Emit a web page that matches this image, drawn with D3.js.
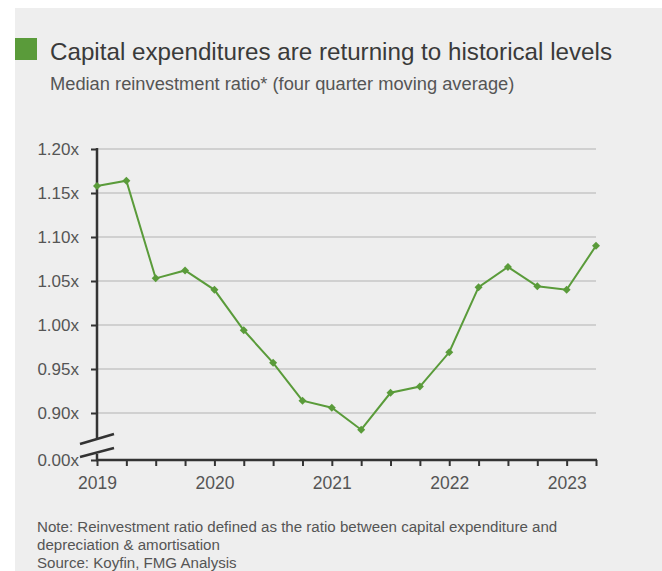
<!DOCTYPE html>
<html>
<head>
<meta charset="utf-8">
<script src="https://cdn.jsdelivr.net/npm/d3@7"></script>
<style>
	body { margin: 0; background: #fff; }
	svg { display: block; font-family: "Liberation Sans", Arial, Helvetica, sans-serif; }
</style>
</head>
<body>
<svg id="chart" width="662" height="571"></svg>
<script>
// quarterly points, 2019 Q1 .. 2023 Q2
var quarters = [2019, 2019.25, 2019.5, 2019.75, 2020, 2020.25, 2020.5, 2020.75,
	2021, 2021.25, 2021.5, 2021.75, 2022, 2022.25, 2022.5, 2022.75, 2023, 2023.25];
var ratios = [1.158, 1.164, 1.053, 1.062, 1.040, 0.994, 0.957, 0.914,
	0.906, 0.881, 0.923, 0.930, 0.969, 1.043, 1.066, 1.044, 1.040, 1.090];
var yTicks = [0, 0.90, 0.95, 1.00, 1.05, 1.10, 1.15, 1.20];
var xLabels = [2019, 2020, 2021, 2022, 2023];
var noteLines = ["Note: Reinvestment ratio defined as the ratio between capital expenditure and",
	"depreciation & amortisation",
	"Source: Koyfin, FMG Analysis"];

var green = "#5a9b3a";
var svg = d3.select("#chart");

// panel background
svg.append("rect")
	.attr("x", 15).attr("y", 8)
	.attr("width", 647).attr("height", 563)
	.attr("fill", "#eeeeee");

svg.append("rect")
	.attr("x", 15).attr("y", 38)
	.attr("width", 22).attr("height", 22)
	.attr("fill", green);

svg.append("text")
	.attr("x", 50).attr("y", 60)
	.attr("font-size", 24.2)
	.attr("fill", "#3a3a3a")
	.text("Capital expenditures are returning to historical levels");

svg.append("text")
	.attr("x", 50).attr("y", 90)
	.attr("font-size", 18.3)
	.attr("fill", "#555")
	.text("Median reinvestment ratio* (four quarter moving average)");

var xScale = d3.scaleLinear()
	.domain([2019, 2023.25])
	.range([97, 596]);

// upper part of the broken axis; values below 0.90 extrapolate
var yScale = d3.scaleLinear()
	.domain([0.90, 1.20])
	.range([413, 149]);
// axis tick positions, with 0 placed below the break
var yAxisScale = d3.scaleLinear()
	.domain([0, 0.90, 1.20])
	.range([460, 413, 149]);

var G = svg.append("g");

// gridlines
G.selectAll(".grid")
	.data(yTicks.filter(d => d > 0))
	.enter().append("line")
	.attr("x1", 97).attr("x2", 596)
	.attr("y1", d => yScale(d)).attr("y2", d => yScale(d))
	.attr("stroke", "#c6c6c6")
	.attr("stroke-width", 1.5);

// y axis
var yAxis = d3.axisLeft(yAxisScale)
	.tickValues(yTicks)
	.tickSize(6)
	.tickPadding(12)
	.tickFormat(d => d3.format(".2f")(d) + "x");

var gy = G.append("g")
	.attr("transform", "translate(97,0)")
	.call(yAxis);
gy.select(".domain").remove();
gy.selectAll(".tick line").attr("stroke", "#333").attr("stroke-width", 2);
gy.selectAll(".tick text")
	.attr("fill", "#555")
	.style("font-size", "17px")
	.style("font-family", "Liberation Sans, Arial, sans-serif");

// y axis line with the break
G.append("line")
	.attr("x1", 97).attr("x2", 97)
	.attr("y1", yScale(1.20) - 1).attr("y2", 438)
	.attr("stroke", "#333").attr("stroke-width", 2.5);
G.append("line")
	.attr("x1", 97).attr("x2", 97)
	.attr("y1", 454).attr("y2", 460)
	.attr("stroke", "#333").attr("stroke-width", 2.5);
[[444, 434], [457, 448]].forEach(function(b) {
	G.append("line")
		.attr("x1", 80).attr("y1", b[0])
		.attr("x2", 114).attr("y2", b[1])
		.attr("stroke", "#333").attr("stroke-width", 2.5);
});

// x axis
var xAxis = d3.axisBottom(xScale)
	.tickValues(quarters)
	.tickSize(6)
	.tickPadding(11)
	.tickFormat(d => xLabels.indexOf(d) >= 0 ? d : "");

var gx = G.append("g")
	.attr("transform", "translate(0,460)")
	.call(xAxis);
gx.select(".domain").attr("stroke", "#333").attr("stroke-width", 2.5)
	.attr("d", "M96,0H597");
gx.selectAll(".tick line").attr("stroke", "#333").attr("stroke-width", 2);
gx.selectAll(".tick text")
	.attr("fill", "#555")
	.style("font-size", "17.5px")
	.style("font-family", "Liberation Sans, Arial, sans-serif");

// series
var line = d3.line()
	.x((d, i) => xScale(quarters[i]))
	.y(d => yScale(d));

G.append("path")
	.datum(ratios)
	.attr("d", line)
	.attr("fill", "none")
	.attr("stroke", green)
	.attr("stroke-width", 2);

G.selectAll(".pt")
	.data(ratios)
	.enter().append("path")
	.attr("transform", (d, i) => "translate(" + xScale(quarters[i]) + "," + yScale(d) + ") rotate(45)")
	.attr("d", d3.symbol().type(d3.symbolSquare).size(32))
	.attr("fill", green);

// notes
svg.selectAll(".note")
	.data(noteLines)
	.enter().append("text")
	.attr("x", 37)
	.attr("y", (d, i) => 532 + i * 18)
	.attr("font-size", 15.1)
	.attr("fill", "#555")
	.text(d => d);
</script>
</body>
</html>
